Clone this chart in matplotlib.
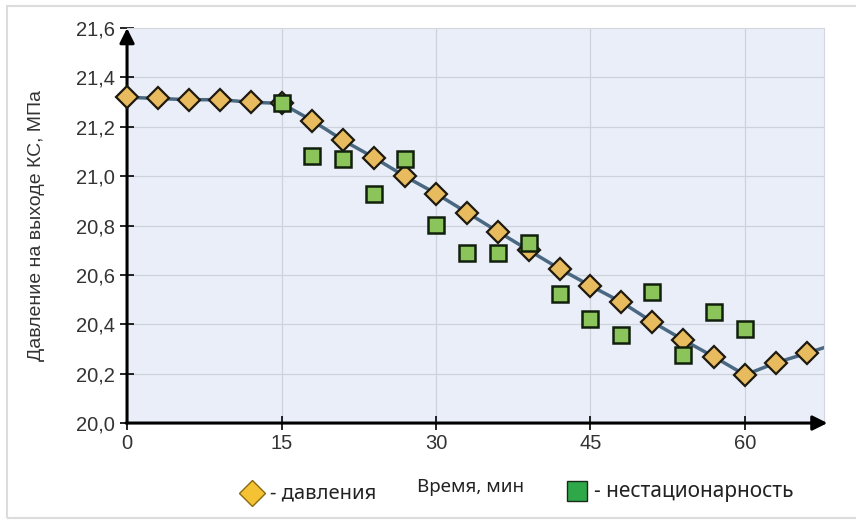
import matplotlib
matplotlib.use('Agg')
import matplotlib.pyplot as plt
from matplotlib.lines import Line2D
from matplotlib.patches import Rectangle
from matplotlib.ticker import FuncFormatter

# pressure (diamonds), every 3 min
t_press = [0, 3, 6, 9, 12, 15, 18, 21, 24, 27, 30, 33, 36, 39, 42, 45,
           48, 51, 54, 57, 60, 63, 66]
press = [21.32, 21.315, 21.31, 21.31, 21.30, 21.295, 21.225, 21.145, 21.075,
         20.999, 20.93, 20.853, 20.776, 20.70, 20.625, 20.556, 20.49, 20.41,
         20.337, 20.268, 20.195, 20.244, 20.283]
# line runs on past the last marker to the edge
t_line = t_press + [68]
press_line = press + [20.31]

# non-stationarity (squares)
t_nst = [15, 18, 21, 24, 27, 30, 33, 36, 39, 42, 45, 48, 51, 54, 57, 60]
nst = [21.295, 21.08, 21.068, 20.93, 21.07, 20.804, 20.69, 20.69, 20.73,
       20.524, 20.42, 20.357, 20.53, 20.276, 20.45, 20.38]

xticks = [0, 15, 30, 45, 60]
yticks = [20.0, 20.2, 20.4, 20.6, 20.8, 21.0, 21.2, 21.4, 21.6]

plt.rcParams['font.family'] = ['Liberation Sans', 'DejaVu Sans']

fig = plt.figure(figsize=(8.56, 5.21), dpi=100)
ax = fig.add_axes([0.1484, 0.188, 0.8142, 0.758])
ax.set_facecolor('#e9eef8')
ax.set_xlim(0, 67.67)
ax.set_ylim(20.0, 21.6)

for x in xticks[1:]:
    ax.axvline(x, color='#cdd2db', lw=0.9, zorder=0)
for y in yticks[1:-1]:
    ax.axhline(y, color='#cdd2db', lw=0.9, zorder=0)

ax.plot(t_line, press_line, color='#4b6882', lw=2.5, zorder=2)
ax.plot(t_press, press, ls='none', marker='D', ms=11, mfc='#e8bb5e',
        mec='#1e1a10', mew=1.6, zorder=6, clip_on=False)
ax.plot(t_nst, nst, ls='none', marker='s', ms=11.5, mfc='#8cc45c',
        mec='#10200c', mew=1.8, zorder=7)

for s in ['top', 'right']:
    ax.spines[s].set_color('#d4d8de')
    ax.spines[s].set_linewidth(0.8)
for s in ['left', 'bottom']:
    ax.spines[s].set_visible(False)

# axes with arrow heads
ax.annotate('', xy=(0, 21.6), xytext=(0, 20.0), xycoords='data',
            arrowprops=dict(arrowstyle='-|>', lw=2.2, color='black',
                            mutation_scale=22, shrinkA=0, shrinkB=0),
            annotation_clip=False, zorder=5)
ax.annotate('', xy=(68.0, 20.0), xytext=(-0.1, 20.0), xycoords='data',
            arrowprops=dict(arrowstyle='-|>', lw=2.2, color='black',
                            mutation_scale=22, shrinkA=0, shrinkB=0),
            annotation_clip=False, zorder=5)

ax.set_xticks(xticks)
ax.set_yticks(yticks)
ax.yaxis.set_major_formatter(FuncFormatter(lambda v, p: f'{v:.1f}'.replace('.', ',')))
ax.tick_params(axis='both', direction='inout', length=10, width=1.2,
               colors='black', labelsize=14.5, labelcolor='#333333')
ax.tick_params(axis='y', pad=4)
ax.tick_params(axis='x', pad=3)

ax.set_ylabel('Давление на выходе КС, МПа', fontsize=14, color='#333333')
ax.yaxis.set_label_coords(-0.118, 0.5)

# legend row under the axis
fig.add_artist(Line2D([252 / 856], [1 - 493 / 521], transform=fig.transFigure,
                      marker='D', ms=13, mfc='#f5c233', mec='#8a6a10', mew=1.0,
                      ls='none'))
fig.text(270 / 856, 1 - 493 / 521, '- давления', fontsize=14.5,
         family=['Noto Sans', 'DejaVu Sans'], color='#222222', va='center')
fig.text(471 / 856, 1 - 487 / 521, 'Время, мин', fontsize=13.5,
         family=['Noto Sans', 'DejaVu Sans'], color='#222222',
         va='center', ha='center')
fig.add_artist(Line2D([577 / 856], [1 - 491 / 521], transform=fig.transFigure,
                      marker='s', ms=15, mfc='#2fa84a', mec='#1a2a1a', mew=1.0,
                      ls='none'))
fig.text(594 / 856, 1 - 491 / 521, '- нестационарность', fontsize=15,
         family=['Noto Sans', 'DejaVu Sans'], color='#222222', va='center')

# thin outer frame
fig.add_artist(Rectangle((7 / 856, 3 / 521), 1.0, 1 - 9 / 521,
                         transform=fig.transFigure, fill=False,
                         ec='#dcdcdc', lw=1.5))

fig.savefig('out.png', dpi=100)
